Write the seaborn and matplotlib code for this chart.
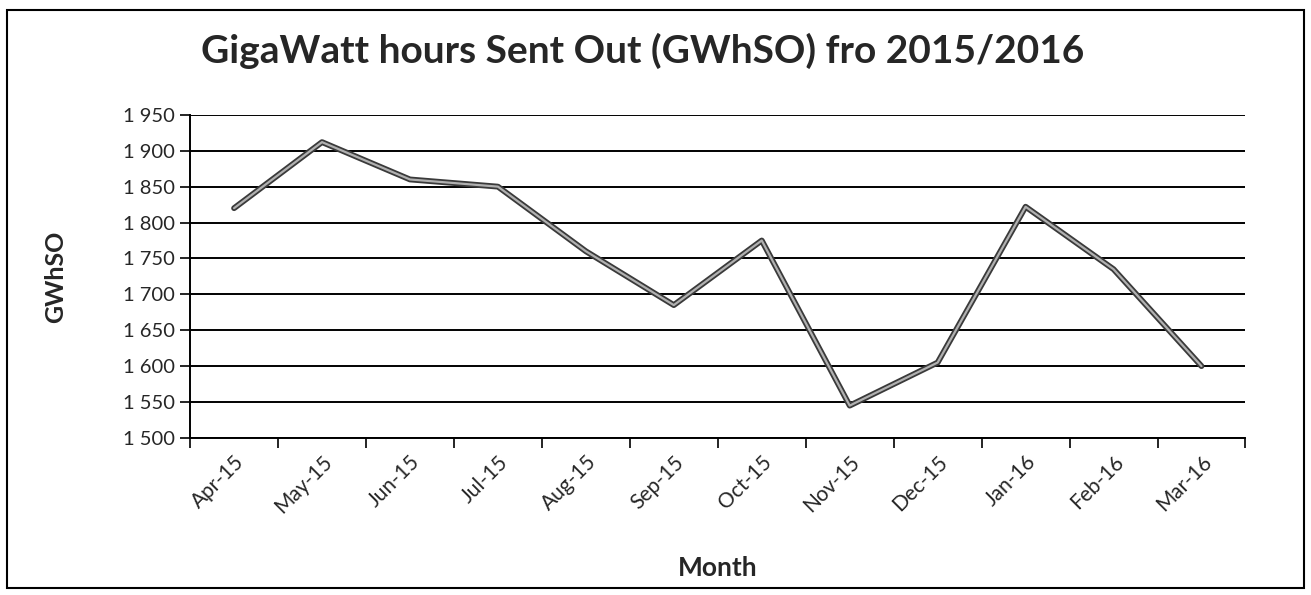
import pandas as pd
import numpy as np
import matplotlib
matplotlib.use("Agg")
import matplotlib.pyplot as plt
import seaborn as sns
from matplotlib.ticker import FuncFormatter, FixedLocator

months = ["Apr-15", "May-15", "Jun-15", "Jul-15", "Aug-15", "Sep-15",
          "Oct-15", "Nov-15", "Dec-15", "Jan-16", "Feb-16", "Mar-16"]
gwhso = [1820, 1912, 1860, 1850, 1760, 1685, 1775, 1545, 1605, 1822, 1735, 1600]
y_ticks = [1500, 1550, 1600, 1650, 1700, 1750, 1800, 1850, 1900, 1950]

df = pd.DataFrame({"Month": months, "GWhSO": gwhso})
df["pos"] = np.arange(len(df))

sns.set_style("ticks")
plt.rcParams["font.family"] = ["Lato", "DejaVu Sans"]

fig = plt.figure(figsize=(13.11, 5.95), dpi=100)
ax = fig.add_axes([0.145, 0.264, 0.805, 0.543])

# scanned double line look: dark outline with a lighter core
sns.lineplot(data=df, x="pos", y="GWhSO", ax=ax, color="#3a3a3a", linewidth=4.2)
sns.lineplot(data=df, x="pos", y="GWhSO", ax=ax, color="#b0b0b0", linewidth=1.6)

ax.set_xlim(-0.5, len(months) - 0.5)
ax.set_ylim(y_ticks[0], y_ticks[-1])
ax.set_yticks(y_ticks)
ax.yaxis.set_major_formatter(FuncFormatter(lambda v, p: f"{int(v):,}".replace(",", " ")))
ax.grid(axis="y", color="black", linewidth=1.4)
ax.set_axisbelow(True)

# labels at category centres, tick marks between categories
ax.set_xticks(df["pos"])
ax.set_xticklabels(months, rotation=45, ha="right", rotation_mode="anchor")
ax.xaxis.set_minor_locator(FixedLocator(np.arange(-0.5, len(months), 1.0)))
ax.tick_params(axis="x", which="major", length=0, labelsize=15, pad=10)
ax.tick_params(axis="x", which="minor", length=7, width=1.2, color="black", direction="out")
ax.tick_params(axis="y", length=7, width=1.2, color="black", labelsize=14.5, pad=4)

for s in ["top", "right"]:
    ax.spines[s].set_visible(False)
for s in ["left", "bottom"]:
    ax.spines[s].set_color("black")
    ax.spines[s].set_linewidth(1.4)

ax.set_xlabel("Month", fontsize=19, fontweight="bold", labelpad=28)
ax.set_ylabel("GWhSO", fontsize=18, fontweight="bold", labelpad=40)
fig.text(0.49, 0.915, "GigaWatt hours Sent Out (GWhSO) fro 2015/2016",
         ha="center", va="center", fontsize=28, fontweight="bold")

# chart frame
fig.patches.append(plt.Rectangle((0.005, 0.012), 0.99, 0.972, transform=fig.transFigure,
                                 fill=False, edgecolor="black", linewidth=1.5))

fig.savefig("out.png", dpi=100)
